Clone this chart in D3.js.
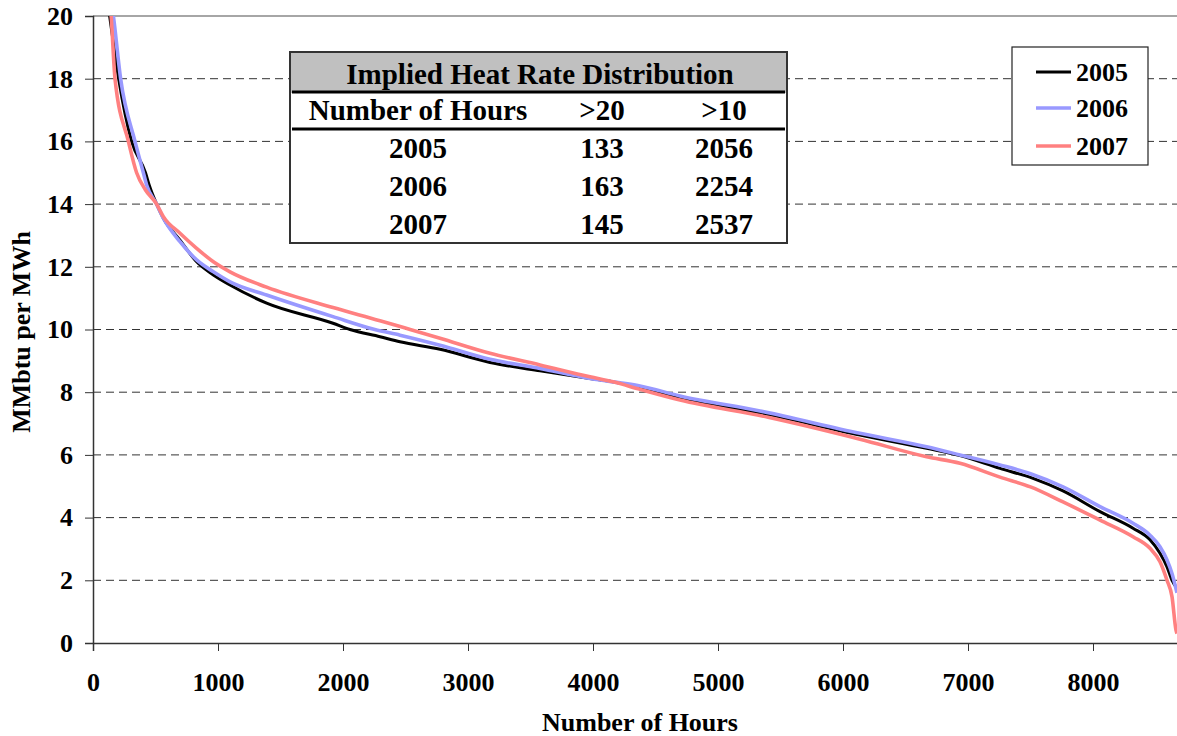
<!DOCTYPE html>
<html>
<head>
<meta charset="utf-8">
<script src="https://cdn.jsdelivr.net/npm/d3@7"></script>
<style>
  body { margin: 0; background: #fff; }
  svg text { font-family: "Times New Roman", Tinos, "Liberation Serif", "DejaVu Serif", serif; font-weight: bold; fill: #000; }
</style>
</head>
<body>
<div id="chart"></div>
<script>
// hours of the year sorted by implied heat rate (load duration style)
const hours2005 = [100, 133, 205, 309, 420, 450, 509, 563, 696, 829, 963, 1096, 1389, 1920, 2056, 2296, 2456, 2776, 3176, 3576, 3976, 4160, 4376, 4696, 5336, 6136, 6669, 6936, 7256, 7520, 7760, 8056, 8320, 8456, 8536, 8592, 8632, 8672];
const rate2005  = [20.9, 20, 18, 16, 15, 14.6, 14, 13.55, 12.85, 12.16, 11.74, 11.42, 10.84, 10.2, 10.0, 9.77, 9.61, 9.37, 8.95, 8.68, 8.44, 8.33, 8.15, 7.8, 7.34, 6.63, 6.21, 5.98, 5.57, 5.25, 4.85, 4.19, 3.66, 3.29, 2.86, 2.43, 2.0, 1.75];

const hours2006 = [120, 163, 221, 336, 403, 430, 509, 563, 696, 829, 963, 1096, 1389, 1920, 2254, 2456, 2776, 3176, 3576, 3976, 4160, 4376, 4696, 5336, 6136, 6669, 6936, 7256, 7500, 7760, 8056, 8320, 8456, 8536, 8592, 8632, 8672];
const rate2006  = [21.1, 20, 18, 16, 15, 14.6, 14, 13.55, 12.8, 12.22, 11.84, 11.52, 11.1, 10.41, 10.0, 9.82, 9.5, 9.05, 8.76, 8.44, 8.33, 8.2, 7.88, 7.4, 6.69, 6.26, 6.0, 5.68, 5.4, 4.98, 4.35, 3.82, 3.44, 3.07, 2.65, 2.22, 1.6];

const hours2007 = [110, 145, 176, 283, 349, 420, 509, 563, 696, 829, 963, 1096, 1389, 1920, 2296, 2537, 2776, 3176, 3576, 3976, 4160, 4376, 4696, 5400, 6136, 6669, 6936, 7256, 7500, 7760, 8056, 8320, 8456, 8536, 8592, 8632, 8664, 8672];
const rate2007  = [21.1, 20, 18, 16, 15, 14.45, 14, 13.6, 13.07, 12.59, 12.16, 11.84, 11.35, 10.7, 10.28, 10.0, 9.72, 9.24, 8.87, 8.49, 8.33, 8.09, 7.75, 7.2, 6.5, 5.94, 5.73, 5.29, 4.98, 4.5, 3.92, 3.39, 3.02, 2.59, 2.0, 1.48, 0.41, 0.3];

const years = ["2005", "2006", "2007"];
const colors = ["#000000", "#9999ff", "#ff8080"];

// summary table
const tableTitle = "Implied Heat Rate Distribution";
const tableHeader = ["Number of Hours", ">20", ">10"];
const over20 = [133, 163, 145];
const over10 = [2056, 2254, 2537];

const xTicks = [0, 1000, 2000, 3000, 4000, 5000, 6000, 7000, 8000];
const yTicks = [0, 2, 4, 6, 8, 10, 12, 14, 16, 18, 20];

const series = [
  hours2005.map((h, i) => ({ h, v: rate2005[i] })),
  hours2006.map((h, i) => ({ h, v: rate2006[i] })),
  hours2007.map((h, i) => ({ h, v: rate2007[i] }))
];

const W = 1177, H = 736;
const margin = { top: 16, left: 93, bottom: 93 };
const plotRight = W;

const svg = d3.select("#chart").append("svg")
  .attr("width", W)
  .attr("height", H);

// 8760 hours runs just past the picture edge
const x = d3.scaleLinear().domain([0, 8760]).range([margin.left, margin.left + 8.760 * 125]);
const y = d3.scaleLinear().domain([0, 20]).range([H - margin.bottom, margin.top]);

svg.append("defs").append("clipPath").attr("id", "plotclip")
  .append("rect")
  .attr("x", margin.left).attr("y", margin.top)
  .attr("width", plotRight - margin.left).attr("height", y(0) - margin.top);

// gridlines
svg.append("g")
  .selectAll("line")
  .data(yTicks.filter(d => d > 0 && d < 20))
  .join("line")
  .attr("x1", margin.left).attr("x2", plotRight)
  .attr("y1", d => y(d)).attr("y2", d => y(d))
  .attr("stroke", "#333")
  .attr("stroke-width", 1)
  .attr("stroke-dasharray", "8,5");

// top border of plot area
svg.append("line")
  .attr("x1", margin.left).attr("x2", plotRight)
  .attr("y1", y(20)).attr("y2", y(20))
  .attr("stroke", "#888").attr("stroke-width", 1.5);

// y axis
const yAxis = svg.append("g")
  .attr("transform", `translate(${margin.left},0)`)
  .call(d3.axisLeft(y).tickValues(yTicks).tickSize(8).tickPadding(12).tickFormat(d3.format("d")));
yAxis.attr("font-family", null).attr("font-size", null);
yAxis.select(".domain").attr("stroke", "#333").attr("stroke-width", 1.5);
yAxis.selectAll(".tick line").attr("stroke", "#333").attr("stroke-width", 1);
yAxis.selectAll(".tick text").style("font-size", "26px");

// x axis
const xAxis = svg.append("g")
  .attr("transform", `translate(0,${y(0)})`)
  .call(d3.axisBottom(x).tickValues(xTicks).tickSize(8).tickPadding(22).tickFormat(d3.format("d")));
xAxis.attr("font-family", null).attr("font-size", null);
xAxis.select(".domain").attr("stroke", "#333").attr("stroke-width", 1.5);
xAxis.selectAll(".tick line").attr("stroke", "#333").attr("stroke-width", 1);
xAxis.selectAll(".tick text").style("font-size", "26px");

// axis titles
svg.append("text")
  .attr("x", 640).attr("y", 731)
  .attr("text-anchor", "middle")
  .style("font-size", "26px")
  .text("Number of Hours");

svg.append("text")
  .attr("transform", "translate(30,332) rotate(-90)")
  .attr("text-anchor", "middle")
  .style("font-size", "26px")
  .text("MMbtu per MWh");

// curves
const line = d3.line()
  .x(d => x(d.h))
  .y(d => y(d.v))
  .curve(d3.curveMonotoneX);

svg.append("g")
  .attr("clip-path", "url(#plotclip)")
  .selectAll("path")
  .data(series)
  .join("path")
  .attr("fill", "none")
  .attr("stroke", (d, i) => colors[i])
  .attr("stroke-width", (d, i) => i == 0 ? 3 : 3.6)
  .attr("stroke-linejoin", "round")
  .attr("d", line);

// table box
const tb = { x: 290, y: 52, w: 497, h: 191 };
const tg = svg.append("g");
tg.append("rect")
  .attr("x", tb.x).attr("y", tb.y).attr("width", tb.w).attr("height", tb.h)
  .attr("fill", "#fff").attr("stroke", "#333").attr("stroke-width", 2);
tg.append("rect")
  .attr("x", tb.x + 1).attr("y", tb.y + 1).attr("width", tb.w - 2).attr("height", 40)
  .attr("fill", "#c0c0c0");
tg.selectAll("line.sep")
  .data([92, 129])
  .join("line")
  .attr("class", "sep")
  .attr("x1", tb.x + 2).attr("x2", tb.x + tb.w - 2)
  .attr("y1", d => d).attr("y2", d => d)
  .attr("stroke", "#000").attr("stroke-width", 3);

tg.append("text")
  .attr("x", 540).attr("y", 84)
  .attr("text-anchor", "middle")
  .style("font-size", "29px")
  .text(tableTitle);

const colX = [418, 602, 724];
tg.selectAll("text.head")
  .data(tableHeader)
  .join("text")
  .attr("class", "head")
  .attr("x", (d, i) => colX[i]).attr("y", 120)
  .attr("text-anchor", "middle")
  .style("font-size", "29px")
  .text(d => d);

const rows = years.map((yr, i) => [yr, over20[i], over10[i]]);
const rowY = [158, 196, 234];
rows.forEach((r, ri) => {
  tg.selectAll("text.r" + ri)
    .data(r)
    .join("text")
    .attr("class", "r" + ri)
    .attr("x", (d, i) => colX[i]).attr("y", rowY[ri])
    .attr("text-anchor", "middle")
    .style("font-size", "29px")
    .text(d => d);
});

// legend
const lg = svg.append("g");
lg.append("rect")
  .attr("x", 1012).attr("y", 47).attr("width", 136).attr("height", 118)
  .attr("fill", "#fff").attr("stroke", "#222").attr("stroke-width", 1.2);
const legY = [72, 108, 146];
years.forEach((yr, i) => {
  lg.append("line")
    .attr("x1", 1036).attr("x2", 1071)
    .attr("y1", legY[i]).attr("y2", legY[i])
    .attr("stroke", colors[i]).attr("stroke-width", i == 0 ? 3 : 3.6);
  lg.append("text")
    .attr("x", 1076).attr("y", legY[i] + 9)
    .style("font-size", "26px")
    .text(yr);
});
</script>
</body>
</html>
